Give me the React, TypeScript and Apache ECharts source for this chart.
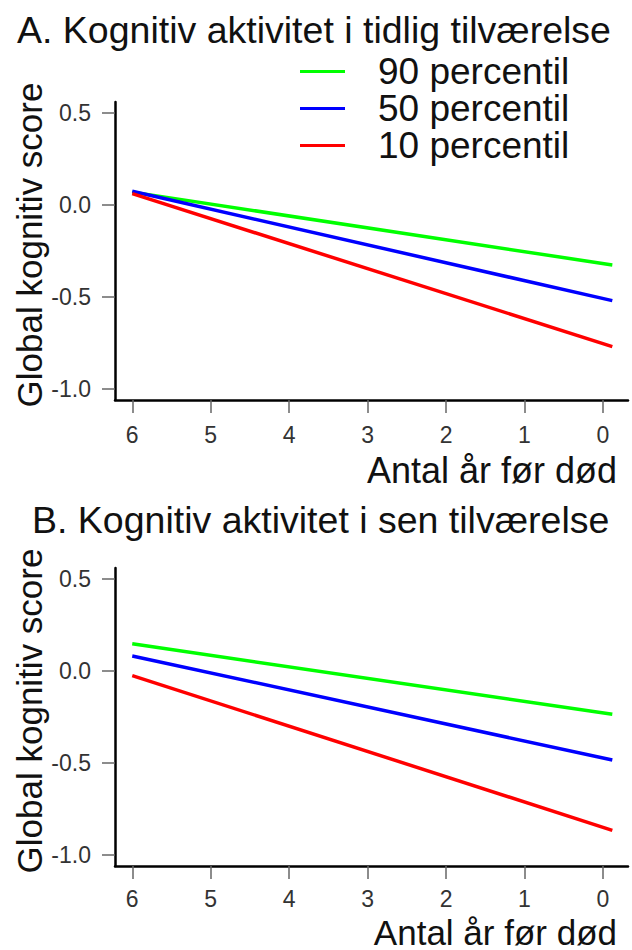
import React, { useEffect, useRef } from "react";
import * as echarts from "echarts";

const yearsSpan = [6, -0.12];
const xTicks = [6, 5, 4, 3, 2, 1, 0];
const yTicks = [-1, -0.5, 0, 0.5];
const percentiles = ["90 percentil", "50 percentil", "10 percentil"];
const lineColors = ["#00ff00", "#0000ff", "#ff0000"];

const earlyP90 = [0.07, -0.326];
const earlyP50 = [0.075, -0.52];
const earlyP10 = [0.062, -0.77];

const lateP90 = [0.148, -0.235];
const lateP50 = [0.082, -0.484];
const lateP10 = [-0.025, -0.866];

const panelTitles = [
  "A. Kognitiv aktivitet i tidlig tilværelse",
  "B. Kognitiv aktivitet i sen tilværelse",
];
const xTitle = "Antal år før død";
const yTitle = "Global kognitiv score";

const FONT = "'Liberation Sans', Arial, sans-serif";

export default function App() {
  const ref = useRef<HTMLDivElement>(null);
  useEffect(() => {
    document.body.style.margin = "0";
    if (!ref.current) return;
    const chart = echarts.init(ref.current, null, { renderer: "svg" });

    const grids = [
      { left: 115, top: 102, width: 513, height: 298 },
      { left: 115, top: 568, width: 513, height: 298 },
    ];
    const labelMargins = [23, 21];

    const xAxis = grids.map((_, i) => ({
      type: "value",
      gridIndex: i,
      inverse: true,
      min: -0.32,
      max: 6.22,
      axisLine: { show: true, onZero: false, lineStyle: { color: "#000", width: 2.5 } },
      axisTick: {
        show: true,
        customValues: xTicks,
        length: 13,
        lineStyle: { color: "#666", width: 1.5 },
      },
      axisLabel: {
        customValues: xTicks,
        formatter: (v: number) => String(v),
        fontSize: 23,
        lineHeight: 24,
        color: "#333",
        fontFamily: FONT,
        margin: labelMargins[i],
      },
      splitLine: { show: false },
    }));

    const yAxis = grids.map((_, i) => ({
      type: "value",
      gridIndex: i,
      min: -1.06,
      max: 0.56,
      axisLine: { show: true, onZero: false, lineStyle: { color: "#000", width: 2.5 } },
      axisTick: {
        show: true,
        customValues: yTicks,
        length: 13,
        lineStyle: { color: "#666", width: 1.5 },
      },
      axisLabel: {
        customValues: yTicks,
        formatter: (v: number) => v.toFixed(1),
        fontSize: 23,
        color: "#333",
        fontFamily: FONT,
        margin: 24,
      },
      splitLine: { show: false },
    }));

    const panels = [
      [earlyP90, earlyP50, earlyP10],
      [lateP90, lateP50, lateP10],
    ];

    const series: any[] = [];
    panels.forEach((vals, pi) => {
      vals.forEach((v, si) => {
        series.push({
          type: "line",
          name: percentiles[si],
          xAxisIndex: pi,
          yAxisIndex: pi,
          symbol: "none",
          color: lineColors[si],
          lineStyle: { color: lineColors[si], width: 3.5 },
          data: yearsSpan.map((x, k) => [x, v[k]]),
        });
      });
    });

    const axisTitleTexts = [
      {
        type: "text",
        x: 617,
        y: 470,
        style: {
          text: xTitle,
          fontSize: 36,
          lineHeight: 34,
          fontFamily: FONT,
          fill: "#111",
          align: "right",
          verticalAlign: "middle",
        },
      },
      {
        type: "text",
        x: 617,
        y: 948,
        style: {
          text: xTitle,
          fontSize: 35,
          lineHeight: 32,
          fontFamily: FONT,
          fill: "#111",
          align: "right",
          verticalAlign: "bottom",
        },
      },
    ];
    const yTitleTexts = grids.map((g) => ({
      type: "text",
      x: 29,
      y: g.top + g.height / 2 - 6,
      rotation: Math.PI / 2,
      style: {
        text: yTitle,
        fontSize: 35,
        fontFamily: FONT,
        fill: "#111",
        align: "center",
        verticalAlign: "middle",
      },
    }));

    chart.setOption({
      animation: false,
      backgroundColor: "#fff",
      title: [
        {
          text: panelTitles[0],
          left: 17,
          top: 11,
          padding: 0,
          textStyle: { fontSize: 37.5, fontWeight: "normal", color: "#111", fontFamily: FONT },
        },
        {
          text: panelTitles[1],
          left: 32,
          top: 501,
          padding: 0,
          textStyle: { fontSize: 37.5, fontWeight: "normal", color: "#111", fontFamily: FONT },
        },
      ],
      legend: {
        data: percentiles,
        orient: "vertical",
        left: 300,
        top: 53,
        padding: 0,
        itemWidth: 45,
        itemHeight: 3,
        itemGap: 0,
        icon: "rect",
        selectedMode: false,
        textStyle: {
          fontSize: 37,
          lineHeight: 37,
          color: "#111",
          fontFamily: FONT,
          padding: [0, 0, 0, 28],
        },
      },
      grid: grids,
      xAxis,
      yAxis,
      series,
      graphic: [...axisTitleTexts, ...yTitleTexts],
    });

    return () => chart.dispose();
  }, []);

  return <div ref={ref} style={{ width: 632, height: 950 }} />;
}
